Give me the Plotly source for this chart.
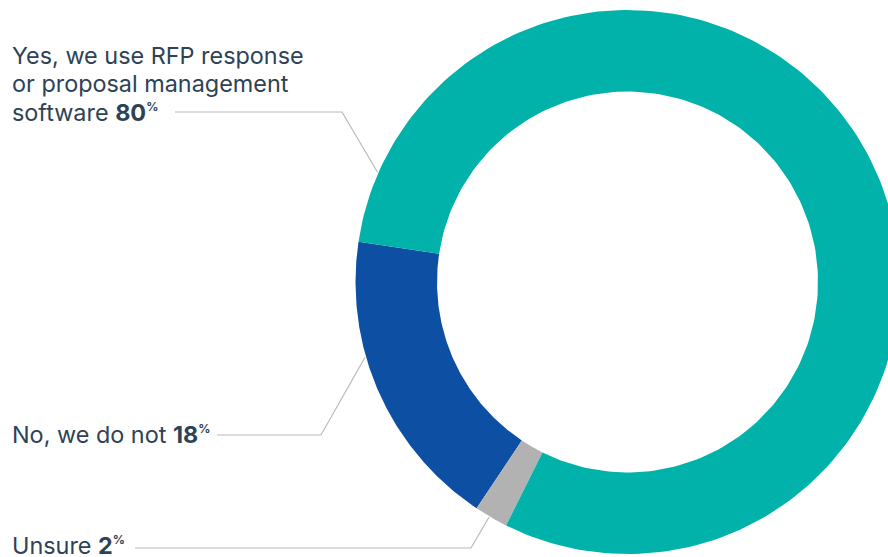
import numpy as np
import plotly.graph_objects as go

# Survey answers, drawn counter-clockwise starting from the "No" slice
labels = ["No, we do not", "Unsure", "Yes, we use RFP response<br>or proposal management<br>software"]
values = [18, 2, 80]
colors = ["#0d4fa3", "#b2b2b2", "#00b2a9"]

# Donut geometry (in page pixels)
W, H = 888, 557
CX, CY = 627.5, 282.0
R_OUT, R_IN = 272.0, 190.5
START_DEG = 171.5

# Leader-line layout: anchor angle on the ring, elbow x, line start x, line y
leader_anchor_deg = [196.0, 239.5, 156.3]
leader_elbow_x = [321, 471, 342]
leader_start_x = [217, 135, 175]
leader_y = [435, 548, 112]
# y of the last line of each label, and spacing between label lines
label_y = [434, 545, 112]
LINE_PITCH = 28.5
LABEL_X = 10

TEXT = "#2e4256"
FONT = "Inter, 'Open Sans', sans-serif"
FONT_SIZE = 23.4


def ring_xy(a0, a1, n=200):
    t = np.radians(np.linspace(a0, a1, n))
    xo = CX + R_OUT * np.cos(t)
    yo = CY - R_OUT * np.sin(t)
    xi = CX + R_IN * np.cos(t[::-1])
    yi = CY - R_IN * np.sin(t[::-1])
    x = np.concatenate([xo, xi, xo[:1]])
    y = np.concatenate([yo, yi, yo[:1]])
    return x, y


fig = go.Figure()
total = sum(values)
angle = START_DEG
for lab, v, c in zip(labels, values, colors):
    span = 360.0 * v / total
    x, y = ring_xy(angle, angle + span)
    fig.add_trace(go.Scatter(x=x, y=y, mode="lines", fill="toself", fillcolor=c,
                             line=dict(width=0, color=c), hoverinfo="skip",
                             showlegend=False))
    angle += span

# Leader lines from each label to the ring
for a, ex, sx, ly in zip(leader_anchor_deg, leader_elbow_x, leader_start_x, leader_y):
    t = np.radians(a)
    ax_ = CX + (R_OUT + 1) * np.cos(t)
    ay_ = CY - (R_OUT + 1) * np.sin(t)
    fig.add_trace(go.Scatter(x=[sx, ex, ax_], y=[ly, ly, ay_], mode="lines",
                             line=dict(color="#b9b9b9", width=1.2),
                             hoverinfo="skip", showlegend=False))

# Labels, one annotation per text line; the value goes on the last line
pct = "<sup><span style='font-size:12px'><b>%</b></span></sup>"
for lab, v, ly in zip(labels, values, label_y):
    lines = lab.split("<br>")
    lines[-1] = f"{lines[-1]} <b>{v}</b>{pct}"
    n = len(lines)
    for i, line in enumerate(lines):
        fig.add_annotation(
            x=LABEL_X, y=ly - (n - 1 - i) * LINE_PITCH, xref="x", yref="y",
            xanchor="left", yanchor="middle", align="left", showarrow=False,
            text=line,
            font=dict(family=FONT, size=FONT_SIZE, color=TEXT),
        )

fig.update_layout(
    width=W, height=H,
    margin=dict(l=0, r=0, t=0, b=0),
    paper_bgcolor="white", plot_bgcolor="white",
    xaxis=dict(range=[0, W], visible=False, fixedrange=True),
    yaxis=dict(range=[H, 0], visible=False, fixedrange=True),
)

fig.write_html("out.html")
